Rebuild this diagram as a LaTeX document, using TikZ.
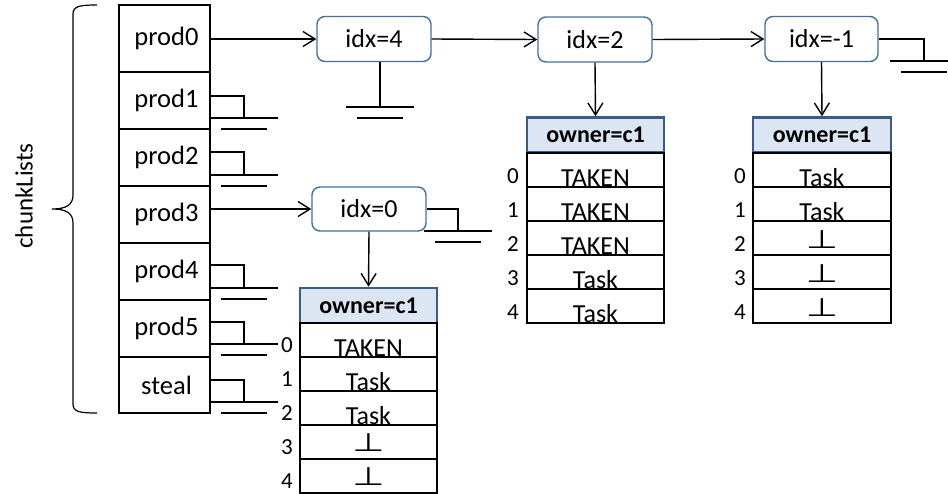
\documentclass[tikz,border=0pt]{standalone}
\usepackage{fontspec}
\setmainfont{Carlito}
\newfontfamily\symfont{DejaVu Sans}
\usepackage{graphicx}
\usetikzlibrary{arrows.meta}
\definecolor{idxblue}{HTML}{41719C}
\definecolor{ownfill}{HTML}{DCE6F2}
\definecolor{owndraw}{HTML}{385D8A}
\newcommand\lowtxt[2]{\raisebox{#1}[0pt][0pt]{#2}}
\newcommand\botsym{\scalebox{1.45}[1]{\symfont\fontsize{25.5}{26}\selectfont ⊥}}
\tikzset{
 cell/.style={draw, line width=1.4pt, minimum width=91pt, inner sep=0pt, font=\fontsize{26.5}{30}\selectfont},
 idxbox/.style={draw=idxblue, line width=1.4pt, rounded corners=8pt, fill=white, minimum width=114pt, minimum height=45pt, inner sep=0pt, font=\fontsize{26}{30}\selectfont},
 owner/.style={draw=owndraw, fill=ownfill, line width=2.6pt, minimum width=137pt, minimum height=35pt, inner sep=0pt, font=\bfseries\fontsize{24}{26}\selectfont},
 slot/.style={draw, line width=1.4pt, minimum width=137pt, minimum height=34pt, inner sep=0pt, font=\fontsize{26}{30}\selectfont},
 idxlab/.style={font=\fontsize{23}{24}\selectfont, inner sep=0pt},
 arr/.style={line width=1.4pt, -{Straight Barb[length=12pt,width=15pt,line width=1.4pt]}},
 gline/.style={line width=2pt},
 pics/gnd/.style={code={\draw[gline] (-34,0) -- (34,0); \draw[gline] (-23,11) -- (23,11);}},
}
\begin{document}
\begin{tikzpicture}[x=1pt,y=-1pt]
\useasboundingbox (0,0) rectangle (948,493);

% brace and label
\draw[line width=1.2pt] (97,5) .. controls (80,5) and (73,6) .. (73,14) -- (73,195)
  .. controls (73,205) and (66,209) .. (52,209) .. controls (66,209) and (73,213) .. (73,223)
  -- (73,404) .. controls (73,412) and (80,413) .. (97,413);
\node[rotate=90, font=\fontsize{25}{30}\selectfont, inner sep=0pt] (lbl) at (24,196) {chunkLists};

% chunk list column
\node[cell, minimum height=67pt] (p0) at (164.5,38.5) {\hspace{4pt}prod0};
\node[cell, minimum height=57pt] (p1) at (164.5,100.5) {\hspace{4pt}prod1};
\node[cell, minimum height=57pt] (p2) at (164.5,157.5) {\hspace{4pt}prod2};
\node[cell, minimum height=57pt] (p3) at (164.5,214.5) {\hspace{4pt}prod3};
\node[cell, minimum height=57pt] (p4) at (164.5,271.5) {\hspace{4pt}prod4};
\node[cell, minimum height=57pt] (p5) at (164.5,328.5) {\hspace{4pt}prod5};
\node[cell, minimum height=56pt] (st) at (164.5,385) {\hspace{4pt}steal};

% idx nodes
\node[idxbox] (i4) at (374,39) {idx=4};
\node[idxbox] (i2) at (595,39.5) {idx=2};
\node[idxbox, minimum width=113pt] (im) at (821.5,39) {idx=-1};
\node[idxbox, minimum height=44pt] (i0) at (369,209) {idx=0};

% arrows between
\draw[arr] (p0.east |- i4.west) -- (i4.west);
\draw[arr] (i4.east) -- (i2.west);
\draw[arr] (i2.east) -- (im.west);
\draw[arr] (p3.east |- i0.west) -- (i0.west);

% grounds on left column
\draw[gline] ([yshift=4.5pt]p1.east) -| (244,118); \pic at (244,118) {gnd};
\draw[gline] ([yshift=5.5pt]p2.east) -| (244,175); \pic at (244,175) {gnd};
\draw[gline] ([yshift=6.5pt]p4.east) -| (244,288); \pic at (244,288) {gnd};
\draw[gline] ([yshift=6.5pt]p5.east) -| (244,344); \pic at (244,344) {gnd};
\draw[gline] ([yshift=5pt]st.east) -| (244,402); \pic at (244,402) {gnd};

% grounds on idx nodes
\draw[gline] ([xshift=6pt]i4.south) -- (380,107); \pic at (380,107) {gnd};
\draw[gline] (i0.east) -| (458,231); \pic at (458,231) {gnd};
\draw[gline] (im.east) -| (924,61); \pic at (924,61) {gnd};

% array under idx=0
\node[owner] (o1) at (368.5,305.5) {owner=c1};
\node[slot] (a1r0) at (368.5,340) {\lowtxt{-16pt}{TAKEN}};
\node[slot] (a1r1) at (368.5,374) {\lowtxt{-16pt}{Task}};
\node[slot] (a1r2) at (368.5,408) {\lowtxt{-16pt}{Task}};
\node[slot] (a1r3) at (368.5,442) {\lowtxt{-9pt}{\botsym}};
\node[slot] (a1r4) at (368.5,476) {\lowtxt{-9pt}{\botsym}};
\node[idxlab] (a1l0) at (287,345) {0};
\node[idxlab] (a1l1) at (287,379) {1};
\node[idxlab] (a1l2) at (287,413) {2};
\node[idxlab] (a1l3) at (287,447) {3};
\node[idxlab] (a1l4) at (287,481) {4};
\draw[arr] (i0.south) -- (o1.north);

% array under idx=2
\node[owner] (o2) at (595.5,135) {owner=c1};
\node[slot] (a2r0) at (595.5,170) {\lowtxt{-16pt}{TAKEN}};
\node[slot] (a2r1) at (595.5,204) {\lowtxt{-16pt}{TAKEN}};
\node[slot] (a2r2) at (595.5,238) {\lowtxt{-16pt}{TAKEN}};
\node[slot] (a2r3) at (595.5,272) {\lowtxt{-16pt}{Task}};
\node[slot] (a2r4) at (595.5,306) {\lowtxt{-16pt}{Task}};
\node[idxlab] (a2l0) at (513,176) {0};
\node[idxlab] (a2l1) at (513,210) {1};
\node[idxlab] (a2l2) at (513,244) {2};
\node[idxlab] (a2l3) at (513,278) {3};
\node[idxlab] (a2l4) at (513,312) {4};
\draw[arr] (i2.south) -- (o2.north);

% array under idx=-1
\node[owner, minimum width=138pt] (o3) at (822,135) {owner=c1};
\node[slot, minimum width=138pt] (a3r0) at (822,170) {\lowtxt{-16pt}{Task}};
\node[slot, minimum width=138pt] (a3r1) at (822,204) {\lowtxt{-16pt}{Task}};
\node[slot, minimum width=138pt] (a3r2) at (822,238) {\lowtxt{-10pt}{\botsym}};
\node[slot, minimum width=138pt] (a3r3) at (822,272) {\lowtxt{-10pt}{\botsym}};
\node[slot, minimum width=138pt] (a3r4) at (822,306) {\lowtxt{-10pt}{\botsym}};
\node[idxlab] (a3l0) at (740,176) {0};
\node[idxlab] (a3l1) at (740,210) {1};
\node[idxlab] (a3l2) at (740,244) {2};
\node[idxlab] (a3l3) at (740,278) {3};
\node[idxlab] (a3l4) at (740,312) {4};
\draw[arr] (im.south) -- (o3.north);
\end{tikzpicture}
\end{document}
